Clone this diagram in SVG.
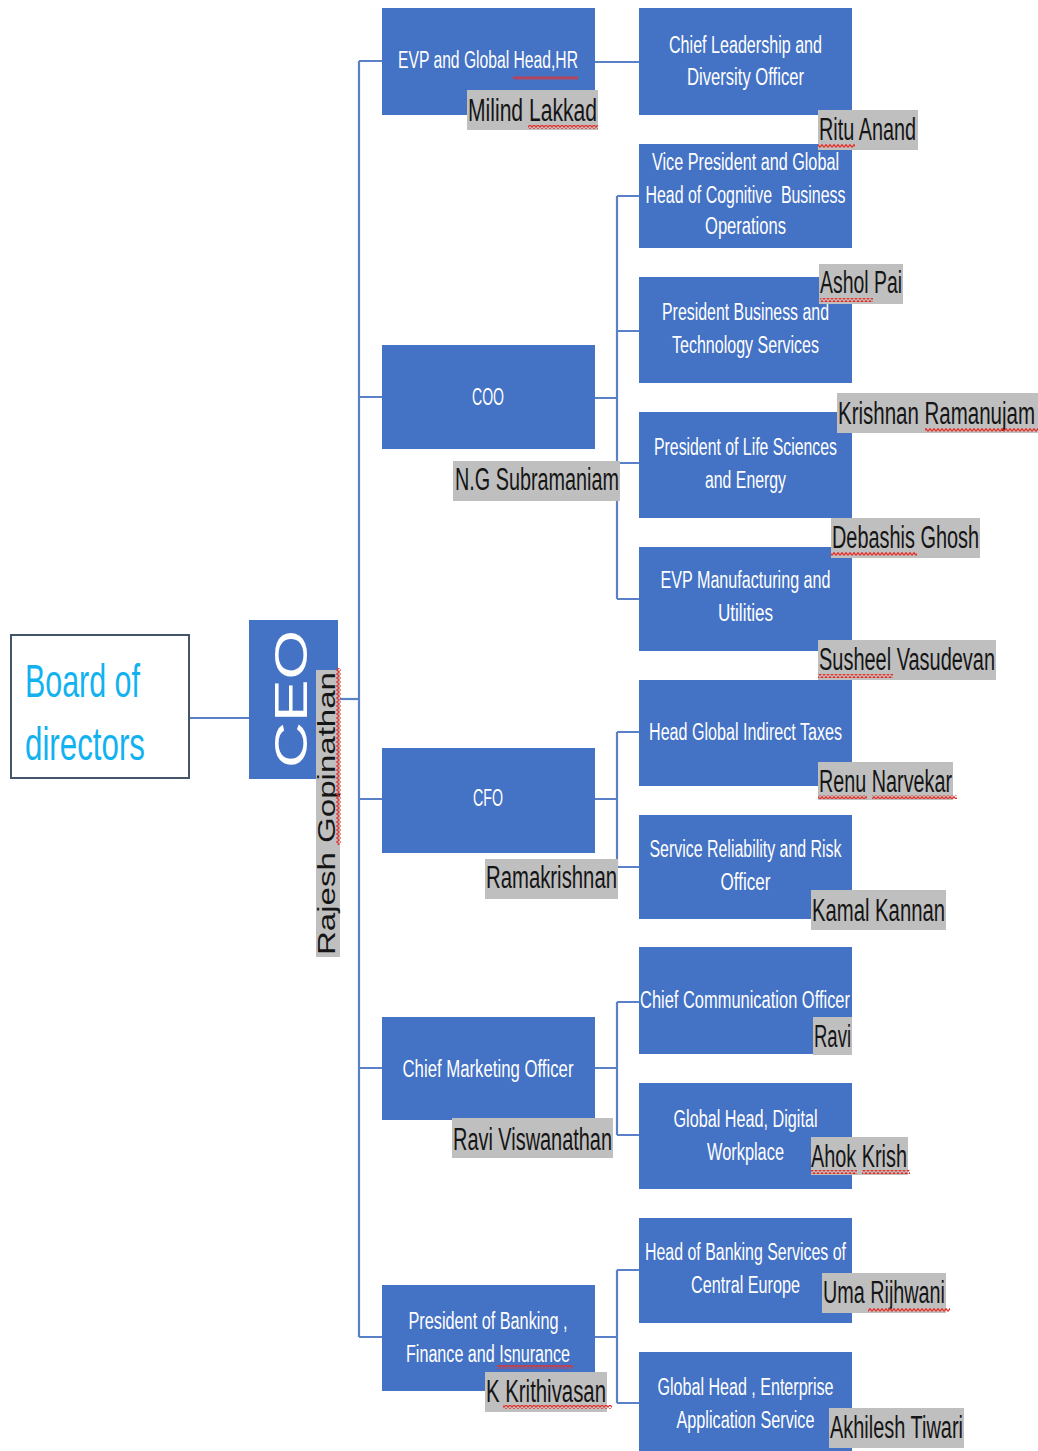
<svg xmlns="http://www.w3.org/2000/svg" width="1038" height="1451" viewBox="0 0 1038 1451">
<style>
.box{fill:#4472c4}
.lbl{font-family:"Liberation Sans",Arial,sans-serif;font-size:23px;fill:#ffffff;text-anchor:middle}
.nbg{fill:#bfbfbf}
.nm{font-family:"Liberation Sans",Arial,sans-serif;font-size:31px;fill:#151515}
.con{stroke:#5a80c8;stroke-width:2.2;fill:none}
.sq{fill:url(#wave)}
.sqv{fill:url(#waveV)}
</style>
<defs>
<pattern id="wave" width="4" height="4" patternUnits="userSpaceOnUse">
<path d="M0 3.4 L2 0.6 L4 3.4" fill="none" stroke="#e8302a" stroke-width="1.2"/>
</pattern>
<pattern id="waveV" width="4" height="4" patternUnits="userSpaceOnUse">
<path d="M3.4 0 L0.6 2 L3.4 4" fill="none" stroke="#e8302a" stroke-width="1.2"/>
</pattern>
</defs>
<rect width="1038" height="1451" fill="#ffffff"/>

<g id="connectors">
<path class="con" d="M189 718 H249"/>
<path class="con" d="M338 699 H359"/>
<path class="con" d="M359 61 V1337"/>
<path class="con" d="M359 61 H382 M359 397 H382 M359 799 H382 M359 1068 H382 M359 1337 H382"/>
<path class="con" d="M595 62 H639"/>
<path class="con" d="M595 398 H617 M617 196 V599 M617 196 H639 M617 331 H639 M617 463 H639 M617 599 H639"/>
<path class="con" d="M595 799 H617 M617 732 V867 M617 732 H639 M617 867 H639"/>
<path class="con" d="M595 1068 H617 M617 1002 V1135 M617 1002 H639 M617 1135 H639"/>
<path class="con" d="M595 1337 H617 M617 1270 V1403 M617 1270 H639 M617 1403 H639"/>
</g>

<g id="board">
<rect x="11" y="635" width="178" height="143" fill="#ffffff" stroke="#44546a" stroke-width="2"/>
<text x="25" y="697" font-family="Liberation Sans,Arial,sans-serif" font-size="47" fill="#12b2f0" textLength="115" lengthAdjust="spacingAndGlyphs">Board of</text>
<text x="25" y="760" font-family="Liberation Sans,Arial,sans-serif" font-size="47" fill="#12b2f0" textLength="120" lengthAdjust="spacingAndGlyphs">directors</text>
</g>

<g id="ceo">
<rect class="box" x="249" y="620" width="89" height="159"/>
<text transform="translate(307,699) rotate(-90)" x="0" y="0" font-family="Liberation Sans,Arial,sans-serif" font-size="46" fill="#ffffff" text-anchor="middle" textLength="138" lengthAdjust="spacingAndGlyphs">CEO</text>
<rect class="nbg" x="316" y="670" width="24" height="287"/>
<text transform="translate(335,813.5) rotate(-90)" x="0" y="0" font-family="Liberation Sans,Arial,sans-serif" font-size="23" fill="#151515" text-anchor="middle" textLength="283" lengthAdjust="spacingAndGlyphs">Rajesh Gopinathan</text>
<rect class="sqv" x="336" y="668" width="5" height="177"/>
</g>

<g id="evp-hr">
<rect class="box" x="382" y="8" width="213" height="107"/>
<text class="lbl" x="488" y="68" textLength="180" lengthAdjust="spacingAndGlyphs">EVP and Global Head,HR</text>
<rect class="sq" x="513" y="76" width="65" height="4"/>
</g>
<g id="coo">
<rect class="box" x="382" y="345" width="213" height="104"/>
<text class="lbl" x="488" y="405" textLength="32" lengthAdjust="spacingAndGlyphs">COO</text>
</g>
<g id="cfo">
<rect class="box" x="382" y="748" width="213" height="105"/>
<text class="lbl" x="488" y="806" textLength="30" lengthAdjust="spacingAndGlyphs">CFO</text>
</g>
<g id="cmo">
<rect class="box" x="382" y="1017" width="213" height="103"/>
<text class="lbl" x="488" y="1077" textLength="171" lengthAdjust="spacingAndGlyphs">Chief Marketing Officer</text>
</g>
<g id="banking">
<rect class="box" x="382" y="1285" width="213" height="106"/>
<text class="lbl" x="488" y="1329" textLength="159" lengthAdjust="spacingAndGlyphs">President of Banking ,</text>
<text class="lbl" x="488" y="1362" textLength="164" lengthAdjust="spacingAndGlyphs">Finance and Isnurance</text>
<rect class="sq" x="497" y="1365" width="76" height="4"/>
</g>

<g id="cldo">
<rect class="box" x="639" y="8" width="213" height="107"/>
<text class="lbl" x="745.5" y="53" textLength="153" lengthAdjust="spacingAndGlyphs">Chief Leadership and</text>
<text class="lbl" x="745.5" y="85" textLength="117" lengthAdjust="spacingAndGlyphs">Diversity Officer</text>
</g>
<g id="vp-cognitive">
<rect class="box" x="639" y="144" width="213" height="104"/>
<text class="lbl" x="745.5" y="170" textLength="187" lengthAdjust="spacingAndGlyphs">Vice President and Global</text>
<text class="lbl" x="745.5" y="203" textLength="200" lengthAdjust="spacingAndGlyphs" xml:space="preserve">Head of Cognitive  Business</text>
<text class="lbl" x="745.5" y="234" textLength="81" lengthAdjust="spacingAndGlyphs">Operations</text>
</g>
<g id="pres-bts">
<rect class="box" x="639" y="277" width="213" height="106"/>
<text class="lbl" x="745.5" y="320" textLength="167" lengthAdjust="spacingAndGlyphs">President Business and</text>
<text class="lbl" x="745.5" y="353" textLength="147" lengthAdjust="spacingAndGlyphs">Technology Services</text>
</g>
<g id="pres-lse">
<rect class="box" x="639" y="412" width="213" height="106"/>
<text class="lbl" x="745.5" y="455" textLength="183" lengthAdjust="spacingAndGlyphs">President of Life Sciences</text>
<text class="lbl" x="745.5" y="488" textLength="81" lengthAdjust="spacingAndGlyphs">and Energy</text>
</g>
<g id="evp-mfg">
<rect class="box" x="639" y="547" width="213" height="104"/>
<text class="lbl" x="745.5" y="588" textLength="170" lengthAdjust="spacingAndGlyphs">EVP Manufacturing and</text>
<text class="lbl" x="745.5" y="621" textLength="55" lengthAdjust="spacingAndGlyphs">Utilities</text>
</g>
<g id="hgit">
<rect class="box" x="639" y="680" width="213" height="106"/>
<text class="lbl" x="745.5" y="740" textLength="193" lengthAdjust="spacingAndGlyphs">Head Global Indirect Taxes</text>
</g>
<g id="srro">
<rect class="box" x="639" y="815" width="213" height="104"/>
<text class="lbl" x="745.5" y="857" textLength="192" lengthAdjust="spacingAndGlyphs">Service Reliability and Risk</text>
<text class="lbl" x="745.5" y="890" textLength="50" lengthAdjust="spacingAndGlyphs">Officer</text>
</g>
<g id="cco">
<rect class="box" x="639" y="947" width="213" height="107"/>
<text class="lbl" x="745" y="1008" textLength="210" lengthAdjust="spacingAndGlyphs">Chief Communication Officer</text>
</g>
<g id="ghdw">
<rect class="box" x="639" y="1083" width="213" height="106"/>
<text class="lbl" x="745.5" y="1127" textLength="144" lengthAdjust="spacingAndGlyphs">Global Head, Digital</text>
<text class="lbl" x="745.5" y="1160" textLength="77" lengthAdjust="spacingAndGlyphs">Workplace</text>
</g>
<g id="hbsce">
<rect class="box" x="639" y="1218" width="213" height="105"/>
<text class="lbl" x="745.5" y="1260" textLength="201" lengthAdjust="spacingAndGlyphs">Head of Banking Services of</text>
<text class="lbl" x="745.5" y="1293" textLength="109" lengthAdjust="spacingAndGlyphs">Central Europe</text>
</g>
<g id="gheas">
<rect class="box" x="639" y="1352" width="213" height="99"/>
<text class="lbl" x="745.5" y="1395" textLength="176" lengthAdjust="spacingAndGlyphs">Global Head , Enterprise</text>
<text class="lbl" x="745.5" y="1428" textLength="138" lengthAdjust="spacingAndGlyphs">Application Service</text>
</g>

<g id="names">
<rect class="nbg" x="467" y="90" width="131" height="40"/>
<text class="nm" x="468" y="121" textLength="129" lengthAdjust="spacingAndGlyphs">Milind Lakkad</text>
<rect class="sq" x="528" y="125" width="70" height="4"/>

<rect class="nbg" x="818" y="110" width="100" height="40"/>
<text class="nm" x="819" y="140" textLength="97" lengthAdjust="spacingAndGlyphs">Ritu Anand</text>
<rect class="sq" x="818" y="144" width="37" height="4"/>

<rect class="nbg" x="819" y="264" width="84" height="40"/>
<text class="nm" x="820" y="293" textLength="82" lengthAdjust="spacingAndGlyphs">Ashol Pai</text>
<rect class="sq" x="820" y="298" width="53" height="4"/>

<rect class="nbg" x="837" y="393" width="201" height="40"/>
<text class="nm" x="838" y="424" textLength="197" lengthAdjust="spacingAndGlyphs">Krishnan Ramanujam</text>
<rect class="sq" x="925" y="428" width="113" height="4"/>

<rect class="nbg" x="453" y="461" width="167" height="40"/>
<text class="nm" x="455" y="490" textLength="164" lengthAdjust="spacingAndGlyphs">N.G Subramaniam</text>

<rect class="nbg" x="831" y="518" width="149" height="40"/>
<text class="nm" x="832" y="548" textLength="147" lengthAdjust="spacingAndGlyphs">Debashis Ghosh</text>
<rect class="sq" x="831" y="552" width="86" height="4"/>

<rect class="nbg" x="818" y="640" width="178" height="40"/>
<text class="nm" x="819" y="670" textLength="176" lengthAdjust="spacingAndGlyphs">Susheel Vasudevan</text>
<rect class="sq" x="818" y="674" width="75" height="4"/>

<rect class="nbg" x="818" y="762" width="135" height="38"/>
<text class="nm" x="819" y="792" textLength="133" lengthAdjust="spacingAndGlyphs">Renu Narvekar</text>
<rect class="sq" x="818" y="795" width="49" height="4"/>
<rect class="sq" x="872" y="795" width="85" height="4"/>

<rect class="nbg" x="485" y="859" width="133" height="40"/>
<text class="nm" x="486" y="888" textLength="131" lengthAdjust="spacingAndGlyphs">Ramakrishnan</text>

<rect class="nbg" x="811" y="890" width="135" height="40"/>
<text class="nm" x="812" y="921" textLength="133" lengthAdjust="spacingAndGlyphs">Kamal Kannan</text>

<rect class="nbg" x="813" y="1017" width="39" height="38"/>
<text class="nm" x="814" y="1047" textLength="37" lengthAdjust="spacingAndGlyphs">Ravi</text>

<rect class="nbg" x="811" y="1137" width="97" height="38"/>
<text class="nm" x="811" y="1167" textLength="96" lengthAdjust="spacingAndGlyphs">Ahok Krish</text>
<rect class="sq" x="811" y="1170" width="46" height="4"/>
<rect class="sq" x="862" y="1170" width="48" height="4"/>

<rect class="nbg" x="452" y="1118" width="161" height="40"/>
<text class="nm" x="453" y="1150" textLength="159" lengthAdjust="spacingAndGlyphs">Ravi Viswanathan</text>

<rect class="nbg" x="485" y="1372" width="122" height="40"/>
<text class="nm" x="486" y="1402" textLength="120" lengthAdjust="spacingAndGlyphs">K Krithivasan</text>
<rect class="sq" x="503" y="1405" width="109" height="4"/>

<rect class="nbg" x="822" y="1273" width="124" height="40"/>
<text class="nm" x="823" y="1303" textLength="122" lengthAdjust="spacingAndGlyphs">Uma Rijhwani</text>
<rect class="sq" x="868" y="1308" width="82" height="4"/>

<rect class="nbg" x="829" y="1408" width="135" height="40"/>
<text class="nm" x="830" y="1438" textLength="133" lengthAdjust="spacingAndGlyphs">Akhilesh Tiwari</text>
</g>
</svg>
